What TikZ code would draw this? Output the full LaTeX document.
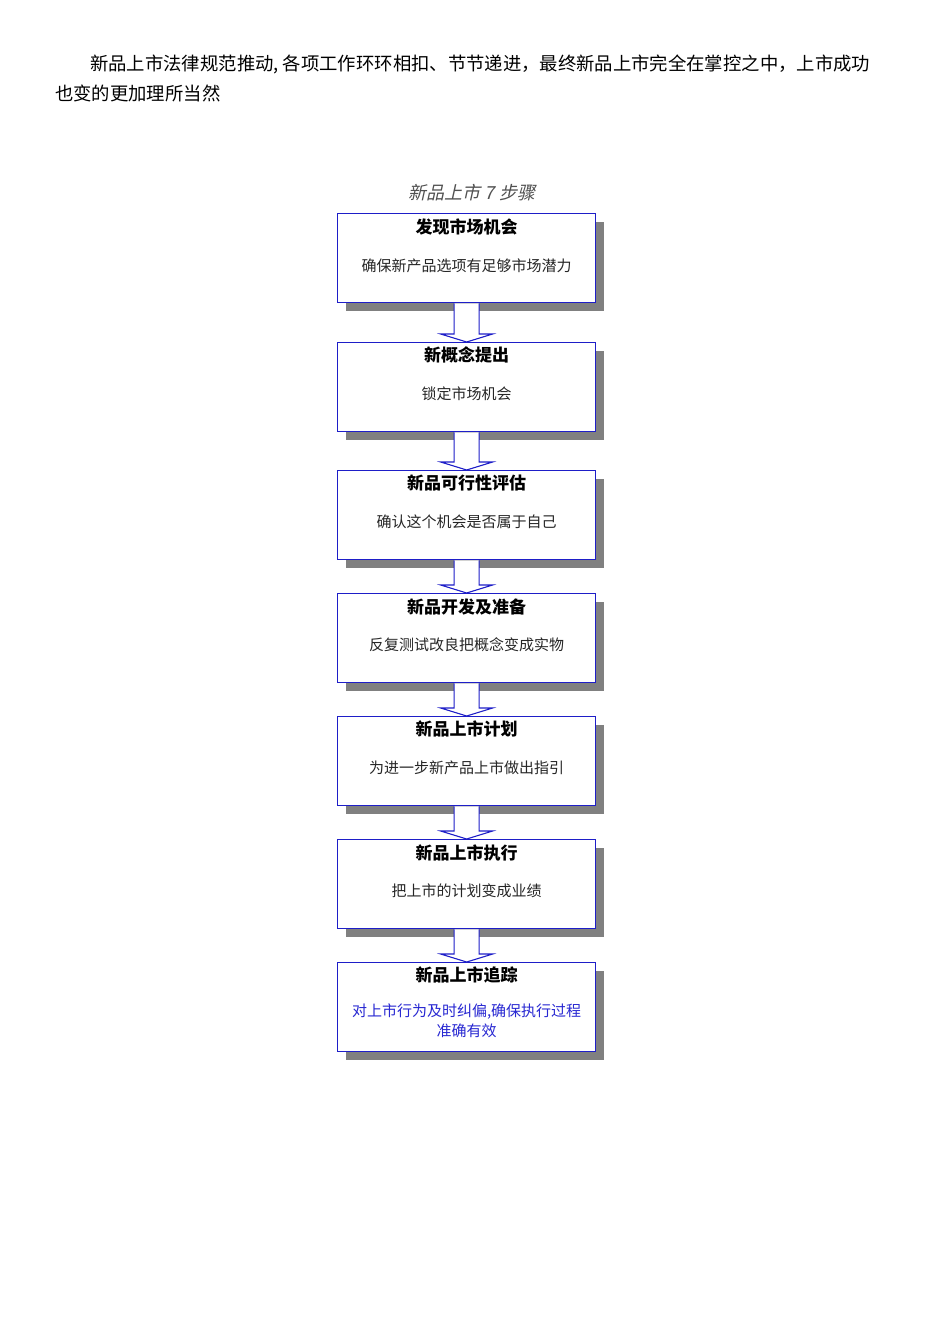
\documentclass[tikz,border=0pt]{standalone}
\usepackage{fontspec}
\setmainfont{Noto Sans CJK SC}
\newfontfamily\itcjk{Noto Sans CJK SC}[FakeSlant=0.22]
\usetikzlibrary{calc,shadows}
\definecolor{boxblue}{RGB}{30,30,200}
\definecolor{shgray}{RGB}{128,128,128}
\definecolor{txtblue}{RGB}{40,40,210}
\definecolor{ttlgray}{RGB}{80,80,80}
\begin{document}
\begin{tikzpicture}[x=1pt,y=-1pt,
  stepbox/.style={draw=boxblue, line width=1.3pt, fill=white, minimum width=258pt, minimum height=89pt,
    anchor=north west, inner sep=0pt, drop shadow={shadow xshift=8pt, shadow yshift=-8pt, fill=shgray, opacity=1}},
  boxtitle/.style={font=\bfseries\fontsize{17}{19}\selectfont, inner sep=0pt},
  boxsub/.style={font=\fontsize{15}{17}\selectfont, inner sep=0pt, text=black!85},
  blocka/.style={draw=boxblue, line width=1.1pt, fill=white, line join=miter},
  para/.style={font=\fontsize{18.35}{20}\selectfont, inner sep=0pt, anchor=west}
]
\useasboundingbox (0,0) rectangle (950,1344);
\fill[white] (0,0) rectangle (950,1344);

\node[para] (p1) at (90,64) {新品上市法律规范推动, 各项工作环环相扣、节节递进，最终新品上市完全在掌控之中，上市成功};
\node[para] (p2) at (55,93) {也变的更加理所当然};

\node[font=\itcjk\fontsize{18}{20}\selectfont, text=ttlgray, inner sep=0pt] (t) at (472,193) {新品上市 7 步骤};

\node[stepbox] (b1) at (337,213) {};
\node[stepbox] (b2) at (337,342) {};
\node[stepbox] (b3) at (337,470) {};
\node[stepbox] (b4) at (337,593) {};
\node[stepbox] (b5) at (337,716) {};
\node[stepbox] (b6) at (337,839) {};
\node[stepbox] (b7) at (337,962) {};

\foreach \a/\b in {b1/b2,b2/b3,b3/b4,b4/b5,b5/b6,b6/b7}{
  \draw[blocka] ($(\a.south)+(-12.5,0)$) -- ($(\b.north)+(-12.5,-8)$) -- ($(\b.north)+(-26,-8)$)
     -- (\b.north) -- ($(\b.north)+(26,-8)$) -- ($(\b.north)+(12.5,-8)$) -- ($(\a.south)+(12.5,0)$);
}

\node[boxtitle] (h1) at ($(b1.north)+(0,14)$) {发现市场机会};
\node[boxsub] (s1) at ($(b1.north)+(0,53)$) {确保新产品选项有足够市场潜力};
\node[boxtitle] (h2) at ($(b2.north)+(0,13)$) {新概念提出};
\node[boxsub] (s2) at ($(b2.north)+(0,52)$) {锁定市场机会};
\node[boxtitle] (h3) at ($(b3.north)+(0,13)$) {新品可行性评估};
\node[boxsub] (s3) at ($(b3.north)+(0,52)$) {确认这个机会是否属于自己};
\node[boxtitle] (h4) at ($(b4.north)+(0,14)$) {新品开发及准备};
\node[boxsub] (s4) at ($(b4.north)+(0,52)$) {反复测试改良把概念变成实物};
\node[boxtitle] (h5) at ($(b5.north)+(0,13)$) {新品上市计划};
\node[boxsub] (s5) at ($(b5.north)+(0,52)$) {为进一步新产品上市做出指引};
\node[boxtitle] (h6) at ($(b6.north)+(0,14)$) {新品上市执行};
\node[boxsub] (s6) at ($(b6.north)+(0,52)$) {把上市的计划变成业绩};
\node[boxtitle] (h7) at ($(b7.north)+(0,13)$) {新品上市追踪};
\node[boxsub, text=txtblue] (s7a) at ($(b7.north)+(0,50)$) {对上市行为及时纠偏,确保执行过程};
\node[boxsub, text=txtblue] (s7b) at ($(b7.north)+(0,69)$) {准确有效};
\end{tikzpicture}
\end{document}
